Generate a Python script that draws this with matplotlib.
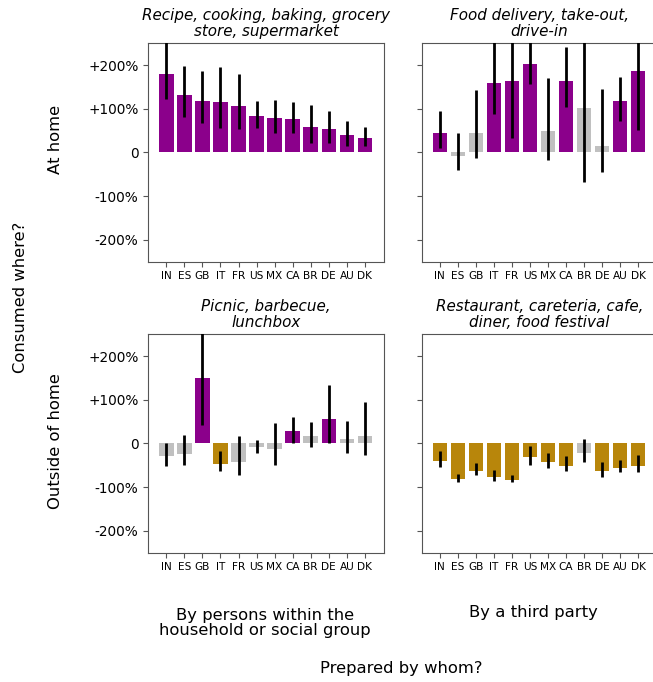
import matplotlib
matplotlib.use("Agg")
import matplotlib.pyplot as plt
import numpy as np

countries = ["IN", "ES", "GB", "IT", "FR", "US", "MX", "CA", "BR", "DE", "AU", "DK"]

# values as fractions (1.0 = +100%)
home_self = [1.79, 1.31, 1.17, 1.15, 1.06, 0.83, 0.79, 0.77, 0.58, 0.54, 0.40, 0.33]
home_self_lo = [1.22, 0.80, 0.67, 0.57, 0.54, 0.55, 0.45, 0.45, 0.22, 0.22, 0.14, 0.14]
home_self_hi = [2.80, 1.99, 1.86, 1.96, 1.79, 1.17, 1.21, 1.15, 1.08, 0.95, 0.73, 0.58]

home_third = [0.44, -0.08, 0.44, 1.58, 1.63, 2.02, 0.49, 1.63, 1.02, 0.15, 1.17, 1.86]
home_third_lo = [0.09, -0.41, -0.12, 0.89, 0.32, 1.57, -0.17, 1.03, -0.67, -0.45, 0.73, 0.52]
home_third_hi = [0.94, 0.45, 1.43, 2.80, 2.80, 2.80, 1.71, 2.42, 2.80, 1.45, 1.73, 2.80]

out_self = [-0.30, -0.24, 1.50, -0.47, -0.43, -0.08, -0.12, 0.29, 0.18, 0.56, 0.11, 0.18]
out_self_lo = [-0.51, -0.49, 0.42, -0.64, -0.73, -0.22, -0.49, 0.01, -0.08, 0.02, -0.21, -0.27]
out_self_hi = [0.01, 0.19, 2.80, -0.17, 0.18, 0.08, 0.46, 0.60, 0.50, 1.34, 0.52, 0.95]

out_third = [-0.40, -0.81, -0.63, -0.76, -0.83, -0.32, -0.42, -0.51, -0.21, -0.63, -0.56, -0.51]
out_third_lo = [-0.54, -0.88, -0.73, -0.86, -0.88, -0.50, -0.57, -0.64, -0.43, -0.76, -0.66, -0.66]
out_third_hi = [-0.18, -0.70, -0.44, -0.60, -0.73, -0.07, -0.21, -0.28, 0.11, -0.42, -0.38, -0.27]

titles = [
    "Recipe, cooking, baking, grocery\nstore, supermarket",
    "Food delivery, take-out,\ndrive-in",
    "Picnic, barbecue,\nlunchbox",
    "Restaurant, careteria, cafe,\ndiner, food festival",
]
row_labels = ["At home", "Outside of home"]
col_labels = ["By persons within the\nhousehold or social group", "By a third party"]
ytick_vals = [-2, -1, 0, 1, 2]
ytick_labels = ["-200%", "-100%", "0", "+100%", "+200%"]

PURPLE = "#8B008B"
GOLD = "#B8860B"
GRAY = "#C0C0C0"
SPINE = "#555555"

W, H = 653, 682
fig = plt.figure(figsize=(W / 100, H / 100), dpi=100)

def fx(px):
    return px / W

def fy(py):
    return 1 - py / H

left_x = [148.3, 421.7]
ax_w = 235.5
top_y = [43.3, 334.3]
ax_h = 218.2

panels = [
    (home_self, home_self_lo, home_self_hi),
    (home_third, home_third_lo, home_third_hi),
    (out_self, out_self_lo, out_self_hi),
    (out_third, out_third_lo, out_third_hi),
]

x = np.arange(len(countries))
for i, (vals, lo, hi) in enumerate(panels):
    r, c = divmod(i, 2)
    ax = fig.add_axes([fx(left_x[c]), fy(top_y[r] + ax_h), fx(ax_w), ax_h / H])
    vals = np.array(vals); lo = np.array(lo); hi = np.array(hi)
    colors = [PURPLE if l > 0 else (GOLD if h < 0 else GRAY) for l, h in zip(lo, hi)]
    ax.bar(x, vals, width=0.8, color=colors, zorder=2)
    ax.vlines(x, lo, hi, color="black", linewidth=2.0, zorder=3)
    ax.set_xlim(-1, 12.05)
    ax.set_ylim(-2.5, 2.5)
    ax.set_xticks(x)
    ax.set_xticklabels(countries, fontsize=7.6)
    ax.set_yticks(ytick_vals)
    if c == 0:
        ax.set_yticklabels(ytick_labels, fontsize=9.8)
    else:
        ax.set_yticklabels([])
    for s in ax.spines.values():
        s.set_color(SPINE)
    ax.tick_params(colors=SPINE, labelcolor="black")
    ax.set_title(titles[i], fontsize=10.9, style="italic", pad=5, linespacing=1.08)

LS = 11.8
fig.text(fx(56), fy(139), row_labels[0], rotation=90, ha="center", va="center", fontsize=LS)
fig.text(fx(56), fy(441), row_labels[1], rotation=90, ha="center", va="center", fontsize=LS)
fig.text(fx(21), fy(297.5), "Consumed where?", rotation=90, ha="center", va="center", fontsize=LS)
fig.text(fx(265), fy(623), col_labels[0], ha="center", va="center", fontsize=LS, linespacing=1.0)
fig.text(fx(533), fy(613), col_labels[1], ha="center", va="center", fontsize=LS)
fig.text(fx(401), fy(668), "Prepared by whom?", ha="center", va="center", fontsize=LS)

fig.savefig("out.png", dpi=100)
